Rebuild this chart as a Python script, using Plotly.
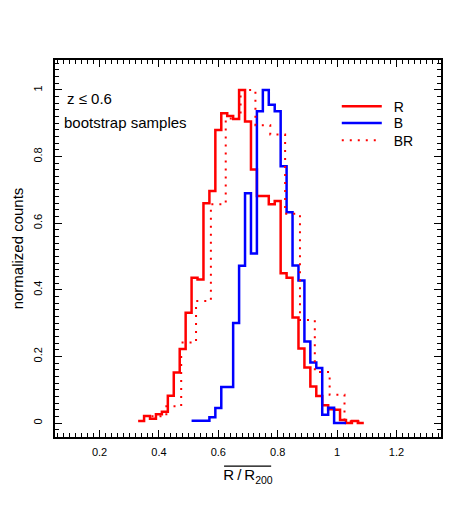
import plotly.graph_objects as go

# bin centres and normalized counts
r_centers = [0.34, 0.36, 0.38, 0.40, 0.42, 0.44, 0.46, 0.48, 0.50, 0.52,
             0.54, 0.56, 0.58, 0.60, 0.62, 0.64, 0.66, 0.68, 0.70, 0.72,
             0.74, 0.76, 0.78, 0.80, 0.82, 0.84, 0.86, 0.88, 0.90, 0.92,
             0.94, 0.96, 0.98, 1.00, 1.02, 1.04, 1.06, 1.08]
r_counts = [0.006, 0.021, 0.013, 0.026, 0.034, 0.082, 0.152, 0.222, 0.331, 0.436,
            0.431, 0.660, 0.697, 0.880, 0.930, 0.922, 0.913, 1.000, 0.905, 0.761,
            0.682, 0.682, 0.657, 0.667, 0.450, 0.436, 0.317, 0.224, 0.167, 0.110,
            0.081, 0.053, 0.041, 0.040, 0.009, 0.000, 0.006, 0.000]

b_centers = [0.52, 0.54, 0.56, 0.58, 0.60, 0.62, 0.64, 0.66, 0.68, 0.70,
             0.72, 0.74, 0.76, 0.78, 0.80, 0.82, 0.84, 0.86, 0.88, 0.90,
             0.92, 0.94, 0.96, 0.98, 1.00, 1.02]
b_counts = [0.007, 0.007, 0.007, 0.017, 0.045, 0.108, 0.108, 0.300, 0.472, 0.690,
            0.509, 0.936, 1.000, 0.956, 0.936, 0.771, 0.633, 0.473, 0.428, 0.245,
            0.182, 0.165, 0.025, 0.046, 0.000, 0.000]

br_centers = [0.40, 0.45, 0.50, 0.55, 0.60, 0.65, 0.70, 0.75, 0.80, 0.85,
              0.90, 0.95, 1.00, 1.05]
br_counts = [0.020, 0.050, 0.242, 0.366, 0.657, 0.914, 1.000, 0.894, 0.866, 0.628,
             0.309, 0.153, 0.085, 0.005]

x_ticks = [0.2, 0.4, 0.6, 0.8, 1.0, 1.2]
x_ticklabels = ["0.2", "0.4", "0.6", "0.8", "1", "1.2"]
y_ticks = [0, 0.2, 0.4, 0.6, 0.8, 1.0]
y_ticklabels = ["0", "0.2", "0.4", "0.6", "0.8", "1"]


def steps(centers, counts, width):
    # edges for an "hv" step line: left edge of each bin plus the last right edge
    xs = [c - width / 2 for c in centers] + [centers[-1] + width / 2]
    ys = list(counts) + [counts[-1]]
    return xs, ys


FONT = "Liberation Sans, Arial, sans-serif"
GAP = "\u2002"  # wider gap between legend line and label, as in the reference

fig = go.Figure()

x, y = steps(r_centers, r_counts, 0.02)
fig.add_trace(go.Scatter(x=x, y=y, mode="lines", name=GAP + "R", line_shape="hv",
                         line=dict(color="#ff0000", width=2.5), legend="legend"))
x, y = steps(b_centers, b_counts, 0.02)
fig.add_trace(go.Scatter(x=x, y=y, mode="lines", name=GAP + "B", line_shape="hv",
                         line=dict(color="#0000ff", width=2.5), legend="legend2"))
x, y = steps(br_centers, br_counts, 0.05)
fig.add_trace(go.Scatter(x=x, y=y, mode="lines", name=GAP + "BR", line_shape="hv",
                         line=dict(color="#ff0000", width=2, dash="2px,6px"),
                         legend="legend3"))

axis_common = dict(
    showline=True, linecolor="black", linewidth=1.5, mirror="allticks",
    ticks="inside", ticklen=7, tickwidth=1, tickcolor="black",
    showgrid=False, zeroline=False, automargin=False,
    tickfont=dict(family=FONT, size=11, color="black"),
    minor=dict(ticks="inside", ticklen=4, tickwidth=1, tickcolor="black", dtick=0.02),
)

fig.update_xaxes(range=[0.05, 1.35], tickvals=x_ticks, ticktext=x_ticklabels,
                 ticklabelstandoff=4,
                 title=dict(text="R\u2009/\u2009R<sub>200</sub>",
                            font=dict(family=FONT, size=15, color="black"), standoff=13),
                 **axis_common)
fig.update_yaxes(range=[-0.042, 1.09], tickvals=y_ticks, ticktext=y_ticklabels,
                 tickangle=-90, ticklabelstandoff=7,
                 title=dict(text="normalized counts",
                            font=dict(family=FONT, size=15, color="black"), standoff=5),
                 **axis_common)

# overline of the x-axis title
fig.add_shape(type="line", xref="paper", yref="paper", x0=0.438, x1=0.560,
              y0=-0.077, y1=-0.077, layer="above",
              line=dict(color="black", width=1.2))

fig.add_annotation(text="z \u2264 0.6", xref="paper", yref="paper", x=0.026, y=0.897,
                   xanchor="left", yanchor="middle", showarrow=False,
                   font=dict(family=FONT, size=15, color="black"))
fig.add_annotation(text="bootstrap samples", xref="paper", yref="paper", x=0.018, y=0.833,
                   xanchor="left", yanchor="middle", showarrow=False,
                   font=dict(family=FONT, size=15, color="black"))

legend_common = dict(x=0.73, xanchor="left", yanchor="middle",
                     bgcolor="rgba(0,0,0,0)", itemwidth=40,
                     font=dict(family=FONT, size=14, color="black"))

# the page body adds an 8px margin, so the figure is 8px smaller than the window
fig.update_layout(
    width=461, height=504,
    margin=dict(l=47, r=28, t=52, b=75),
    paper_bgcolor="white", plot_bgcolor="white",
    showlegend=True,
    legend=dict(y=0.876, **legend_common),
    legend2=dict(y=0.832, **legend_common),
    legend3=dict(y=0.786, **legend_common),
)

fig.write_html("out.html")
